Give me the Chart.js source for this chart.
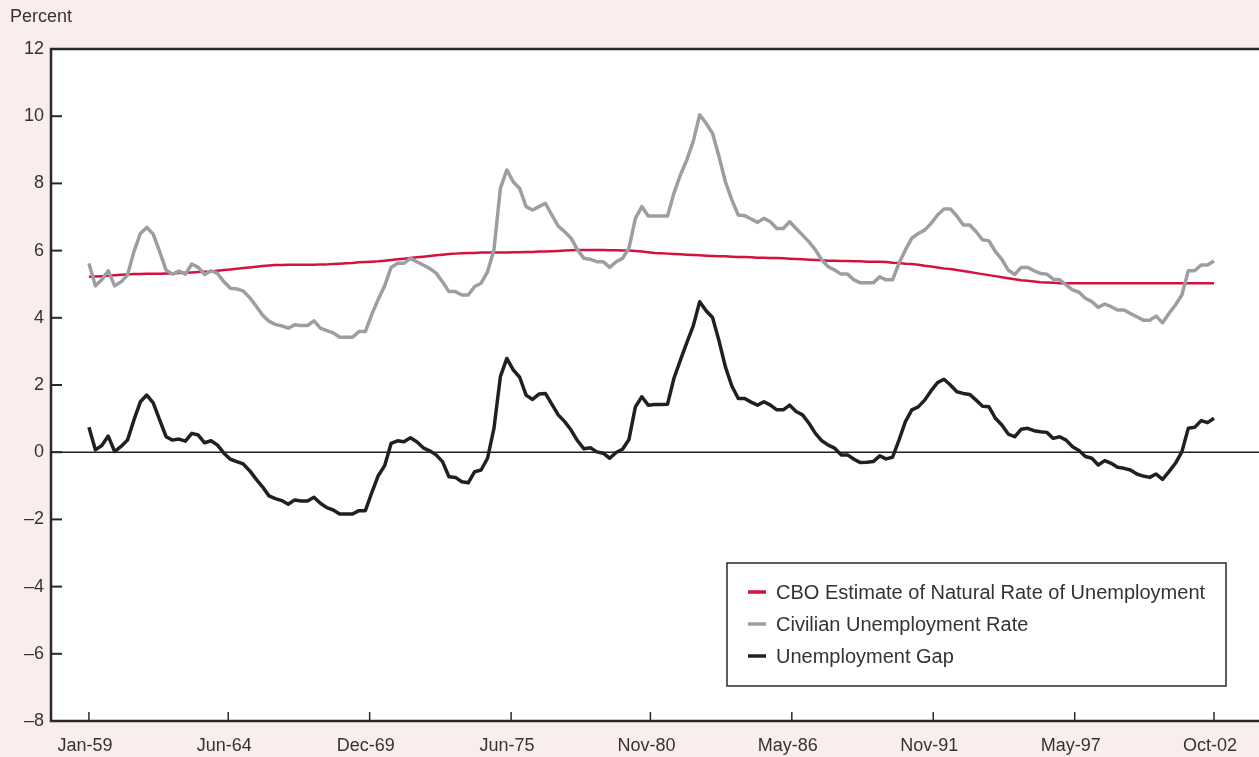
<!DOCTYPE html>
<html>
<head>
<meta charset="utf-8">
<style>
  html, body { margin: 0; padding: 0; background: #FAEEEC; }
  #wrap { width: 1259px; height: 757px; }
</style>
<script src="https://cdn.jsdelivr.net/npm/chart.js@4.4.1/dist/chart.umd.min.js"></script>
</head>
<body>
<div id="wrap"><canvas id="c" width="1259" height="757"></canvas></div>
<script>
// Quarterly observations, first quarter = Jan-59, last = Oct-02
const startLabel = "Jan-59";
const monthsPerStep = 3;

const civilianRate = [
  5.62,4.95,5.13,5.40,4.95,5.07,5.27,5.97,6.51,6.69,6.49,5.97,5.42,5.30,5.39,5.30,
  5.60,5.50,5.29,5.40,5.32,5.07,4.88,4.86,4.80,4.60,4.35,4.08,3.90,3.80,3.76,3.69,
  3.79,3.77,3.77,3.91,3.69,3.62,3.55,3.42,3.42,3.42,3.59,3.59,4.10,4.55,4.95,5.50,
  5.62,5.62,5.77,5.67,5.57,5.47,5.33,5.07,4.78,4.78,4.68,4.68,4.93,5.03,5.37,6.02,
  7.85,8.40,8.05,7.85,7.31,7.21,7.31,7.41,7.06,6.73,6.56,6.37,6.02,5.77,5.74,5.67,
  5.67,5.50,5.67,5.77,6.07,6.96,7.31,7.03,7.03,7.03,7.03,7.71,8.25,8.70,9.25,10.04,
  9.79,9.49,8.80,8.05,7.51,7.06,7.04,6.94,6.84,6.96,6.86,6.66,6.66,6.86,6.66,6.46,
  6.26,6.02,5.72,5.52,5.42,5.30,5.30,5.13,5.04,5.04,5.04,5.22,5.13,5.13,5.62,6.02,
  6.37,6.51,6.61,6.81,7.06,7.24,7.24,7.03,6.76,6.76,6.56,6.32,6.29,5.97,5.74,5.42,
  5.29,5.50,5.50,5.40,5.32,5.30,5.15,5.13,4.98,4.83,4.76,4.58,4.48,4.31,4.41,4.33,
  4.23,4.23,4.13,4.03,3.93,3.93,4.05,3.85,4.13,4.38,4.68,5.40,5.40,5.57,5.57,5.69
];

const naturalRate = [
  5.22,5.23,5.24,5.25,5.27,5.28,5.29,5.30,5.30,5.31,5.31,5.31,5.32,5.32,5.33,5.34,
  5.35,5.36,5.37,5.38,5.40,5.42,5.44,5.46,5.48,5.50,5.52,5.54,5.56,5.57,5.57,5.58,
  5.58,5.58,5.58,5.58,5.59,5.59,5.60,5.61,5.62,5.63,5.65,5.66,5.67,5.68,5.70,5.72,
  5.74,5.76,5.78,5.80,5.82,5.84,5.86,5.88,5.90,5.91,5.92,5.93,5.93,5.94,5.94,5.94,
  5.94,5.94,5.95,5.95,5.96,5.96,5.97,5.97,5.98,5.99,6.00,6.01,6.02,6.02,6.02,6.02,
  6.02,6.01,6.01,6.00,6.00,5.99,5.97,5.95,5.93,5.92,5.91,5.90,5.89,5.88,5.87,5.86,
  5.85,5.84,5.83,5.83,5.82,5.81,5.81,5.80,5.79,5.79,5.78,5.78,5.77,5.76,5.75,5.74,
  5.73,5.72,5.71,5.70,5.70,5.69,5.69,5.68,5.68,5.67,5.67,5.67,5.66,5.64,5.63,5.61,
  5.60,5.58,5.55,5.53,5.50,5.47,5.45,5.42,5.39,5.36,5.33,5.30,5.27,5.24,5.21,5.18,
  5.15,5.12,5.10,5.08,5.06,5.05,5.04,5.03,5.03,5.03,5.03,5.03,5.03,5.03,5.03,5.03,
  5.03,5.03,5.03,5.03,5.03,5.03,5.03,5.03,5.03,5.03,5.03,5.03,5.03,5.03,5.03,5.03
];

const unemploymentGap = [
  0.74,0.07,0.20,0.48,0.02,0.17,0.36,0.96,1.50,1.70,1.47,0.96,0.46,0.36,0.39,0.33,
  0.56,0.51,0.28,0.34,0.21,-0.03,-0.21,-0.28,-0.35,-0.55,-0.80,-1.03,-1.30,-1.38,-1.44,-1.55,
  -1.42,-1.45,-1.45,-1.34,-1.52,-1.65,-1.72,-1.84,-1.84,-1.84,-1.74,-1.74,-1.20,-0.70,-0.40,0.26,
  0.34,0.31,0.43,0.31,0.13,0.04,-0.08,-0.28,-0.73,-0.75,-0.88,-0.91,-0.58,-0.53,-0.18,0.71,
  2.25,2.79,2.45,2.23,1.70,1.57,1.73,1.75,1.43,1.11,0.91,0.66,0.34,0.10,0.13,0.01,
  -0.03,-0.18,-0.01,0.09,0.38,1.35,1.65,1.40,1.42,1.42,1.43,2.20,2.74,3.26,3.76,4.48,
  4.21,4.01,3.32,2.54,1.97,1.60,1.60,1.49,1.40,1.50,1.40,1.26,1.26,1.40,1.21,1.11,
  0.86,0.56,0.34,0.21,0.12,-0.08,-0.08,-0.21,-0.31,-0.30,-0.28,-0.11,-0.20,-0.15,0.36,0.91,
  1.26,1.35,1.55,1.83,2.07,2.17,2.00,1.80,1.75,1.72,1.55,1.37,1.35,1.01,0.81,0.54,
  0.46,0.68,0.71,0.64,0.61,0.59,0.41,0.46,0.36,0.16,0.05,-0.13,-0.18,-0.38,-0.25,-0.33,
  -0.45,-0.48,-0.53,-0.65,-0.71,-0.75,-0.65,-0.81,-0.58,-0.33,0.01,0.71,0.74,0.94,0.88,1.01
];

// x-axis tick labels and their month offsets from Jan-59
const xTickLabels = ["Jan-59","Jun-64","Dec-69","Jun-75","Nov-80","May-86","Nov-91","May-97","Oct-02"];
const xTickMonths = [0, 65, 131, 197, 262, 328, 394, 460, 525];

const yTicks = [12,10,8,6,4,2,0,-2,-4,-6,-8];

const seriesNames = {
  natural: "CBO Estimate of Natural Rate of Unemployment",
  civilian: "Civilian Unemployment Rate",
  gap: "Unemployment Gap"
};

const COLORS = {
  bg: "#FAEEEC",
  red: "#D3123F",
  gray: "#9C9EA1",
  black: "#231F20",
  text: "#333333",
  axis: "#2B2829"
};

function toPoints(arr) {
  return arr.map((v, i) => ({ x: i * monthsPerStep, y: v }));
}

const FONT = "'Liberation Sans', Arial, sans-serif";

const decor = {
  id: "decor",
  beforeDraw(chart) {
    const { ctx, chartArea: a } = chart;
    ctx.save();
    ctx.fillStyle = COLORS.bg;
    ctx.fillRect(0, 0, chart.width, chart.height);
    ctx.fillStyle = "#FFFFFF";
    ctx.fillRect(a.left, a.top, a.right - a.left, a.bottom - a.top);
    ctx.restore();
  },
  beforeDatasetsDraw(chart) {
    const { ctx, chartArea: a, scales } = chart;
    const y0 = scales.y.getPixelForValue(0);
    ctx.save();
    ctx.strokeStyle = COLORS.black;
    ctx.lineWidth = 1.5;
    ctx.beginPath();
    ctx.moveTo(a.left, y0);
    ctx.lineTo(a.right, y0);
    ctx.stroke();
    ctx.restore();
  },
  afterDatasetsDraw(chart) {
    const { ctx, chartArea: a, scales } = chart;
    ctx.save();
    // frame
    ctx.strokeStyle = COLORS.axis;
    ctx.lineWidth = 2.5;
    ctx.beginPath();
    ctx.moveTo(chart.width, a.top);
    ctx.lineTo(a.left, a.top);
    ctx.lineTo(a.left, a.bottom);
    ctx.lineTo(chart.width, a.bottom);
    ctx.stroke();
    // y tick marks (inside)
    ctx.lineWidth = 2;
    yTicks.forEach(v => {
      if (v === 12 || v === -8) return;
      const y = scales.y.getPixelForValue(v);
      ctx.beginPath();
      ctx.moveTo(a.left, y);
      ctx.lineTo(a.left + 11, y);
      ctx.stroke();
    });
    // x tick marks (inside, upward)
    ctx.lineWidth = 1.5;
    xTickMonths.forEach(m => {
      const x = scales.x.getPixelForValue(m);
      ctx.beginPath();
      ctx.moveTo(x, a.bottom);
      ctx.lineTo(x, a.bottom - 9);
      ctx.stroke();
    });
    // "Percent" label
    ctx.fillStyle = COLORS.text;
    ctx.font = "18px " + FONT;
    ctx.textBaseline = "middle";
    ctx.textAlign = "left";
    ctx.fillText("Percent", 10, 17);

    // legend box
    const bx = 727, by = 563, bw = 499, bh = 123;
    ctx.fillStyle = "#FFFFFF";
    ctx.fillRect(bx, by, bw, bh);
    ctx.strokeStyle = COLORS.axis;
    ctx.lineWidth = 1.5;
    ctx.strokeRect(bx, by, bw, bh);
    const order = [1, 0, 2];
    order.forEach((di, k) => {
      const ds = chart.data.datasets[di];
      const y = 592 + k * 32;
      ctx.strokeStyle = ds.borderColor;
      ctx.lineWidth = 3.5;
      ctx.lineCap = "butt";
      ctx.beginPath();
      ctx.moveTo(748, y);
      ctx.lineTo(766, y);
      ctx.stroke();
      ctx.fillStyle = COLORS.text;
      ctx.font = "20px " + FONT;
      ctx.textAlign = "left";
      ctx.textBaseline = "middle";
      ctx.fillText(ds.label, 776, y + 1);
    });
    ctx.restore();
  }
};

new Chart(document.getElementById("c"), {
  type: "line",
  data: {
    datasets: [
      { label: seriesNames.civilian, data: toPoints(civilianRate), borderColor: COLORS.gray, borderWidth: 3.5, pointRadius: 0, tension: 0, borderJoinStyle: "round" },
      { label: seriesNames.natural, data: toPoints(naturalRate), borderColor: COLORS.red, borderWidth: 2.5, pointRadius: 0, tension: 0, borderJoinStyle: "round" },
      { label: seriesNames.gap, data: toPoints(unemploymentGap), borderColor: COLORS.black, borderWidth: 3.5, pointRadius: 0, tension: 0, borderJoinStyle: "round" }
    ]
  },
  options: {
    responsive: false,
    animation: false,
    devicePixelRatio: 1,
    layout: { padding: { top: 49, left: 0, right: 0, bottom: 0 } },
    plugins: { legend: { display: false }, tooltip: { enabled: false } },
    scales: {
      x: {
        type: "linear",
        min: -17.7,
        max: 546,
        grid: { display: false, drawTicks: false, tickLength: 0 },
        border: { display: false },
        afterFit(scale) { scale.height = 36; },
        afterBuildTicks(scale) { scale.ticks = xTickMonths.map(v => ({ value: v })); },
        ticks: {
          autoSkip: false,
          maxRotation: 0,
          padding: 14,
          labelOffset: -4,
          color: COLORS.text,
          font: { family: FONT, size: 18 },
          callback(value) {
            const i = xTickMonths.indexOf(value);
            return i >= 0 ? xTickLabels[i] : "";
          }
        }
      },
      y: {
        min: -8,
        max: 12,
        grid: { display: false, drawTicks: false, tickLength: 0 },
        border: { display: false },
        afterFit(scale) { scale.width = 51; },
        afterBuildTicks(scale) { scale.ticks = yTicks.map(v => ({ value: v })); },
        ticks: {
          padding: 7,
          color: COLORS.text,
          font: { family: FONT, size: 18 },
          callback(value) { return String(value).replace("-", "\u2013"); }
        }
      }
    }
  },
  plugins: [decor]
});
</script>
</body>
</html>
